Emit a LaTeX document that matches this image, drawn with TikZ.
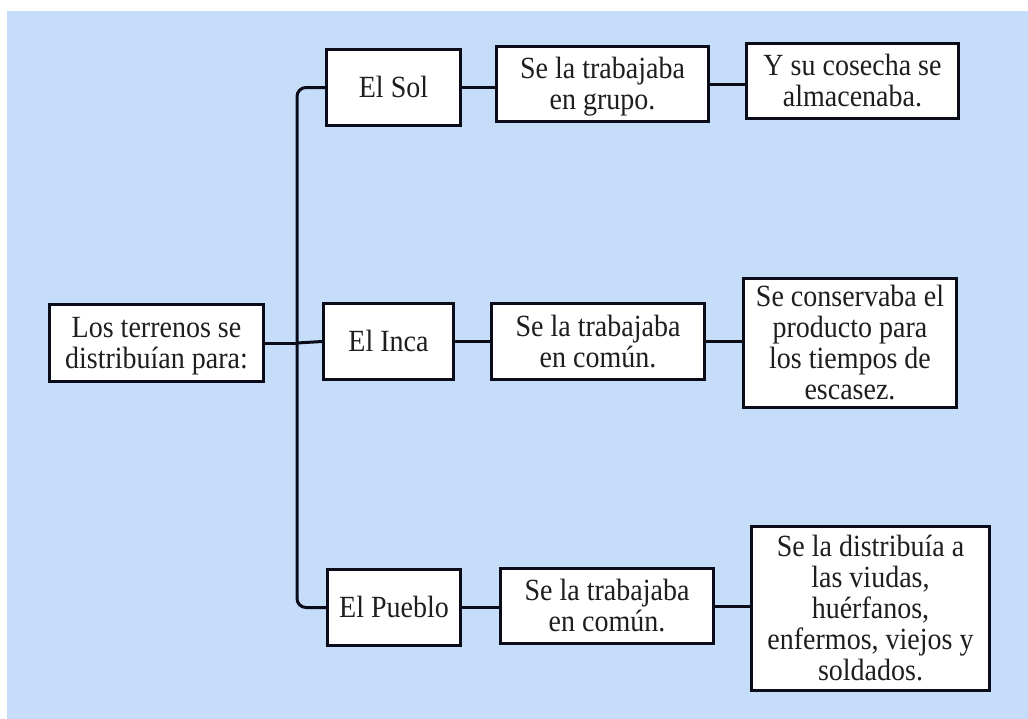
\documentclass[tikz,border=0pt]{standalone}
\usepackage{fontspec}
\usepackage{graphicx}
\setmainfont{Liberation Serif}
\definecolor{bgleft}{RGB}{160,187,226}
\definecolor{bgmid}{RGB}{197,221,248}
\definecolor{bgright}{RGB}{172,198,238}
\definecolor{linec}{RGB}{10,12,25}
\definecolor{txt}{RGB}{30,30,30}
\pgfdeclarehorizontalshading{bgshade}{100bp}{color(0bp)=(bgleft); color(22bp)=(bgmid); color(75bp)=(bgmid); color(100bp)=(bgright)}
\newcommand{\T}[1]{\raisebox{-4pt}[\height][\depth]{\scalebox{1}[1.1]{\begin{tabular}{@{}c@{}}#1\end{tabular}}}}
\tikzset{
  box/.style={draw=linec, line width=3pt, fill=white, align=center, inner sep=0pt,
    text=txt, font=\fontsize{28}{28}\selectfont},
  conn/.style={draw=linec, line width=3pt}
}
\begin{document}
\begin{tikzpicture}[x=1pt,y=-1pt]
\useasboundingbox (0,0) rectangle (1028,718);
\fill[white] (0,0) rectangle (1028,718);
\shade[shading=bgshade] (7,11) rectangle (1028,718);

\node[box, minimum width=214, minimum height=77] (root) at (156.5,343) {\T{Los terrenos se\\distribuían para:}};

\node[box, minimum width=134, minimum height=76] (sol) at (393.5,87.5) {\T{El Sol}};
\node[box, minimum width=212, minimum height=75] (g1) at (602.5,84) {\T{Se la trabajaba\\en grupo.}};
\node[box, minimum width=212, minimum height=75] (c1) at (852.5,81) {\T{Y su cosecha se\\almacenaba.}};

\node[box, minimum width=130, minimum height=76] (inca) at (388.5,341.5) {\T{El Inca}};
\node[box, minimum width=213, minimum height=76] (g2) at (598,341.5) {\T{Se la trabajaba\\en común.}};
\node[box, minimum width=213, minimum height=129] (c2) at (850,343) {\T{Se conservaba el\\producto para\\los tiempos de\\escasez.}};

\node[box, minimum width=133, minimum height=76] (pueblo) at (394,607.5) {\T{El Pueblo}};
\node[box, minimum width=213, minimum height=75] (g3) at (607,606) {\T{Se la trabajaba\\en común.}};
\node[box, minimum width=238, minimum height=164] (c3) at (870.5,608.5) {\T{Se la distribuía a\\las viudas,\\huérfanos,\\enfermos, viejos y\\soldados.}};

\coordinate (trunk) at (297,343);

\draw[conn, rounded corners=9] (sol.west) -| (trunk) |- (pueblo.west);
\draw[conn] (root.east) -- (trunk);
\draw[conn] (trunk) -- (inca.west);

\draw[conn] (sol.east) -- (sol.east -| g1.west);
\draw[conn] (g1.east) -- (g1.east -| c1.west);
\draw[conn] (inca.east) -- (inca.east -| g2.west);
\draw[conn] (g2.east) -- (g2.east -| c2.west);
\draw[conn] (pueblo.east) -- (pueblo.east -| g3.west);
\draw[conn] (g3.east) -- (g3.east -| c3.west);
\end{tikzpicture}
\end{document}
